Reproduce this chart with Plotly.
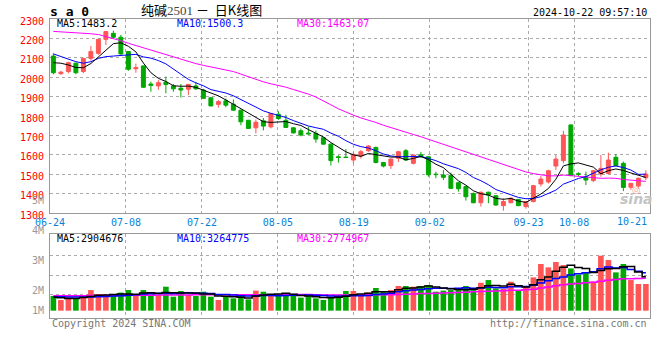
import plotly.graph_objects as go

# ---------------- data ----------------
dates = [
    "06-24", "06-25", "06-26", "06-27", "06-28",
    "07-01", "07-02", "07-03", "07-04", "07-05",
    "07-08", "07-09", "07-10", "07-11", "07-12",
    "07-15", "07-16", "07-17", "07-18", "07-19",
    "07-22", "07-23", "07-24", "07-25", "07-26",
    "07-29", "07-30", "07-31", "08-01", "08-02",
    "08-05", "08-06", "08-07", "08-08", "08-09",
    "08-12", "08-13", "08-14", "08-15", "08-16",
    "08-19", "08-20", "08-21", "08-22", "08-23",
    "08-26", "08-27", "08-28", "08-29", "08-30",
    "09-02", "09-03", "09-04", "09-05", "09-06",
    "09-09", "09-10", "09-11", "09-12", "09-13",
    "09-18", "09-19", "09-20",
    "09-23", "09-24", "09-25", "09-26", "09-27",
    "09-30",
    "10-08", "10-09", "10-10", "10-11",
    "10-14", "10-15", "10-16", "10-17", "10-18",
    "10-21", "10-22",
]

opens = [2109, 2018, 2029, 2072, 2029, 2097, 2123, 2195, 2226, 2206,
         2132, 2043, 2058, 1965, 1955, 1974, 1955, 1943, 1938, 1955,
         1934, 1894, 1860, 1878, 1861, 1830, 1778, 1739, 1775, 1744,
         1809, 1778, 1739, 1724, 1712, 1710, 1688, 1655, 1590, 1588,
         1573, 1594, 1621, 1638, 1560, 1544, 1582, 1621, 1556, 1600,
         1590, 1500, 1496, 1493, 1456, 1436, 1401, 1353, 1407, 1389,
         1338, 1353, 1370, 1333, 1359, 1450, 1460, 1542, 1570, 1754,
         1502, 1487, 1467, 1501, 1504, 1587, 1556, 1433, 1439, 1482]
highs = [2123, 2033, 2080, 2075, 2100, 2161, 2197, 2238, 2240, 2218,
         2135, 2070, 2060, 1977, 1985, 2003, 1965, 1965, 1965, 1975,
         1940, 1896, 1882, 1890, 1885, 1832, 1780, 1782, 1790, 1815,
         1825, 1806, 1742, 1735, 1745, 1725, 1690, 1658, 1598, 1630,
         1615, 1625, 1650, 1642, 1562, 1580, 1620, 1630, 1602, 1615,
         1592, 1513, 1522, 1508, 1460, 1440, 1405, 1410, 1410, 1392,
         1376, 1380, 1372, 1362, 1445, 1492, 1523, 1599, 1724, 1754,
         1510, 1513, 1522, 1599, 1611, 1604, 1565, 1455, 1483, 1520]
lows = [2015, 2012, 2020, 2015, 2020, 2085, 2115, 2166, 2200, 2115,
        2033, 2023, 1945, 1925, 1935, 1917, 1925, 1895, 1908, 1935,
        1888, 1850, 1843, 1845, 1828, 1752, 1733, 1710, 1726, 1736,
        1780, 1738, 1710, 1695, 1704, 1662, 1652, 1545, 1560, 1583,
        1555, 1580, 1615, 1556, 1535, 1527, 1563, 1570, 1550, 1585,
        1487, 1479, 1470, 1425, 1410, 1364, 1350, 1333, 1350, 1338,
        1312, 1350, 1335, 1322, 1355, 1436, 1452, 1522, 1556, 1490,
        1490, 1444, 1460, 1487, 1500, 1540, 1413, 1420, 1425, 1470]
closes = [2023, 2026, 2075, 2023, 2097, 2132, 2195, 2235, 2206, 2120,
          2041, 2050, 1948, 1958, 1972, 1962, 1940, 1934, 1963, 1940,
          1891, 1852, 1874, 1856, 1830, 1770, 1736, 1768, 1748, 1813,
          1787, 1741, 1713, 1702, 1708, 1681, 1655, 1570, 1586, 1586,
          1602, 1616, 1645, 1560, 1542, 1578, 1616, 1573, 1599, 1590,
          1497, 1498, 1484, 1427, 1425, 1384, 1353, 1407, 1393, 1341,
          1359, 1376, 1338, 1359, 1441, 1475, 1518, 1578, 1702, 1493,
          1500, 1470, 1518, 1530, 1573, 1544, 1432, 1453, 1479, 1500]

ma5 = [2075, 2072, 2063, 2050, 2048.8, 2070.6, 2104.4, 2136.4, 2173, 2177.6,
       2159.4, 2130.4, 2073, 2023.4, 1993.8, 1978, 1956, 1953.2, 1954.2, 1947.8,
       1933.6, 1916, 1904, 1882.6, 1860.6, 1836.4, 1813.2, 1792, 1770.4, 1767,
       1770.4, 1771.4, 1760.4, 1751.2, 1730.2, 1709, 1691.8, 1663.2, 1640, 1615.6,
       1599.8, 1592, 1607, 1601.8, 1593, 1588.2, 1588.2, 1573.8, 1581.6, 1591.2,
       1575, 1551.4, 1533.6, 1499.2, 1466.2, 1443.6, 1414.6, 1399.2, 1392.4, 1375.6,
       1370.6, 1375.2, 1361.4, 1354.6, 1374.6, 1397.8, 1426.2, 1474.2, 1542.8, 1553.2,
       1558.2, 1548.6, 1536.6, 1502.2, 1518.2, 1527, 1519.4, 1506.4, 1496.2, 1483.2]
ma10 = [2120, 2106, 2092, 2080, 2072, 2080, 2097, 2106, 2109, 2113.2,
        2115, 2117.4, 2104.7, 2098.2, 2085.7, 2068.7, 2043.2, 2013.1, 1988.8, 1970.8,
        1955.8, 1936, 1928.6, 1918.4, 1904.2, 1885, 1864.6, 1848, 1826.5, 1813.8,
        1803.4, 1792.3, 1776.2, 1760.8, 1748.6, 1739.7, 1731.6, 1711.8, 1695.6, 1672.9,
        1654.4, 1641.9, 1635.1, 1620.9, 1604.3, 1594, 1590.1, 1590.4, 1591.7, 1592.1,
        1581.6, 1569.8, 1553.7, 1540.4, 1528.7, 1509.3, 1483, 1466.4, 1445.8, 1420.9,
        1407.1, 1394.9, 1380.3, 1373.5, 1375.1, 1384.2, 1400.7, 1417.8, 1448.7, 1463.9,
        1478, 1487.4, 1505.4, 1522.5, 1535.7, 1542.6, 1534, 1521.5, 1499.2, 1500.3]
ma30 = [2236, 2234, 2232, 2229, 2226, 2224, 2220, 2210, 2200, 2188,
        2175, 2163, 2151, 2140, 2128, 2116, 2104, 2092, 2081, 2070,
        2061, 2052, 2044, 2037, 2029, 2016, 2002, 1989, 1976, 1965.9,
        1958.1, 1948.6, 1936.5, 1925.8, 1912.8, 1897.8, 1879.8, 1857.6, 1837, 1819.2,
        1804.5, 1790.1, 1780, 1766.7, 1752.4, 1739.6, 1728.8, 1716.7, 1704.6, 1692.9,
        1679.8, 1668, 1655, 1640.7, 1627.2, 1614.3, 1601.6, 1589.5, 1577.7, 1562,
        1547.7, 1535.5, 1523, 1511.6, 1502.7, 1495.8, 1491.3, 1491.5, 1495.4, 1492.3,
        1488.9, 1484, 1479.8, 1478.8, 1479.8, 1478.7, 1472.6, 1468.6, 1464.6, 1463.07]

# volume, millions of lots
vol = [1.26, 0.92, 1.12, 1.06, 1.26, 1.77, 1.43, 1.20, 1.26, 1.55,
       1.77, 1.26, 1.77, 1.34, 1.34, 2.06, 1.20, 1.69, 1.34, 1.26,
       1.63, 1.20, 0.92, 1.20, 1.06, 1.34, 0.97, 1.72, 1.63, 1.43,
       1.43, 1.26, 1.26, 1.12, 1.26, 1.06, 0.92, 1.20, 1.34, 1.69,
       1.69, 1.26, 1.55, 1.95, 1.63, 1.77, 2.12, 2.12, 2.06, 2.12,
       2.20, 1.63, 1.72, 1.77, 1.77, 2.12, 1.77, 2.40, 2.63, 1.92,
       1.86, 2.49, 1.77, 2.12, 2.86, 4.01, 3.72, 4.18, 3.92, 3.63,
       3.10, 3.29, 2.50, 4.72, 4.35, 3.29, 4.01, 2.63, 2.29, 2.29]
vma5 = [1.15, 1.10, 1.05, 1.05, 1.124, 1.226, 1.328, 1.344, 1.384, 1.442,
        1.442, 1.408, 1.522, 1.538, 1.496, 1.554, 1.542, 1.526, 1.526, 1.510,
        1.424, 1.424, 1.270, 1.242, 1.202, 1.144, 1.098, 1.258, 1.344, 1.418,
        1.436, 1.494, 1.402, 1.300, 1.266, 1.192, 1.124, 1.112, 1.156, 1.242,
        1.368, 1.436, 1.506, 1.628, 1.616, 1.632, 1.804, 1.918, 1.940, 2.038,
        2.124, 2.026, 1.946, 1.888, 1.818, 1.802, 1.830, 1.966, 2.138, 2.168,
        2.116, 2.260, 2.134, 2.032, 2.220, 2.650, 2.896, 3.378, 3.738, 3.892,
        3.710, 3.624, 3.288, 3.448, 3.592, 3.630, 3.774, 3.800, 3.314, 2.904676]
vma10 = [1.20, 1.19, 1.18, 1.17, 1.17, 1.18, 1.20, 1.22, 1.25, 1.283,
         1.334, 1.368, 1.433, 1.461, 1.469, 1.498, 1.475, 1.524, 1.532, 1.503,
         1.489, 1.483, 1.398, 1.384, 1.356, 1.284, 1.261, 1.264, 1.293, 1.310,
         1.290, 1.296, 1.330, 1.322, 1.342, 1.314, 1.309, 1.257, 1.228, 1.254,
         1.280, 1.280, 1.309, 1.392, 1.429, 1.500, 1.620, 1.712, 1.784, 1.827,
         1.878, 1.915, 1.932, 1.914, 1.928, 1.963, 1.928, 1.956, 2.013, 1.993,
         1.959, 2.045, 2.050, 2.085, 2.194, 2.383, 2.578, 2.756, 2.885, 3.056,
         3.180, 3.260, 3.333, 3.593, 3.742, 3.670, 3.699, 3.544, 3.381, 3.264775]
vma30 = [1.28, 1.28, 1.29, 1.29, 1.29, 1.30, 1.30, 1.30, 1.31, 1.31,
         1.32, 1.32, 1.33, 1.33, 1.34, 1.34, 1.35, 1.35, 1.35, 1.36,
         1.36, 1.36, 1.36, 1.36, 1.36, 1.36, 1.36, 1.36, 1.36, 1.365,
         1.371, 1.382, 1.387, 1.389, 1.389, 1.365, 1.348, 1.348, 1.351, 1.356,
         1.353, 1.353, 1.346, 1.366, 1.376, 1.366, 1.397, 1.411, 1.435, 1.464,
         1.483, 1.497, 1.524, 1.543, 1.566, 1.592, 1.619, 1.642, 1.675, 1.691,
         1.706, 1.747, 1.764, 1.797, 1.850, 1.949, 2.042, 2.141, 2.227, 2.292,
         2.339, 2.407, 2.438, 2.531, 2.621, 2.672, 2.735, 2.752, 2.760, 2.774967]

tick_dates = ["06-24", "07-08", "07-22", "08-05", "08-19", "09-02", "09-23", "10-08"]
edge_date = "10-21"
price_ticks = [1300, 1400, 1500, 1600, 1700, 1800, 1900, 2000, 2100, 2200, 2300]
vol_labels = ["5M", "4M", "3M", "2M", "1M"]

title_name = "纯碱"
title_code = "2501"
title_rest = " －  日K线图"
symbol = "s a 0"
stamp = "2024-10-22 09:57:10"
price_legend = [("MA5:1483.2", "#000000"), ("MA10:1500.3", "#0000ff"), ("MA30:1463.07", "#ff00ff")]
vol_legend = [("MA5:2904676", "#000000"), ("MA10:3264775", "#0000ff"), ("MA30:2774967", "#ff00ff")]

# ---------------- styling ----------------
RED = "#ff5555"
GREEN = "#00a800"
GRID = "#aaaaaa"
BORDER = "#999999"
MONO = "DejaVu Sans Mono"

n = len(dates)
x = list(range(n))
x_lo, x_hi = -0.45, n - 0.45
tickvals = [dates.index(d) * n / (n - 1) - 0.445 for d in tick_dates]
bar_colors = [RED if c >= o else GREEN for o, c in zip(opens, closes)]

fig = go.Figure()
fig.add_trace(go.Candlestick(
    x=x, open=opens, high=highs, low=lows, close=closes,
    increasing=dict(line=dict(color=RED, width=1), fillcolor=RED),
    decreasing=dict(line=dict(color=GREEN, width=1), fillcolor=GREEN),
    whiskerwidth=0, showlegend=False, hoverinfo="skip", xaxis="x", yaxis="y"))
for ys, col in [(ma30, "#ff00ff"), (ma10, "#0000ff"), (ma5, "#000000")]:
    fig.add_trace(go.Scatter(x=x, y=ys, mode="lines", line=dict(color=col, width=1),
                             showlegend=False, hoverinfo="skip", xaxis="x", yaxis="y"))

fig.add_trace(go.Bar(x=x, y=vol, marker=dict(color=bar_colors, line=dict(width=0)),
                     showlegend=False, hoverinfo="skip", xaxis="x2", yaxis="y2"))
for ys, col in [(vma30, "#ff00ff"), (vma10, "#0000ff"), (vma5, "#000000")]:
    fig.add_trace(go.Scatter(x=x, y=ys, mode="lines", line=dict(color=col, width=1.5, shape="hvh"),
                             showlegend=False, hoverinfo="skip", xaxis="x2", yaxis="y2"))

W, H = 660, 360
ML, MR, MT, MB = 50, 10, 19, 42
PH = H - MT - MB
PW = W - ML - MR


def py(ypix):
    return (H - MB - ypix) / PH


def px(xpix):
    return (xpix - ML) / PW


price_bottom = 213
vol_top = 234.3

axis_common = dict(showgrid=True, gridcolor=GRID, griddash="dot", gridwidth=1,
                   showline=True, mirror=True, linecolor=BORDER, linewidth=1,
                   zeroline=False, ticks="")

fig.update_layout(
    width=W, height=H,
    margin=dict(l=ML, r=MR, t=MT, b=MB, autoexpand=False),
    paper_bgcolor="white", plot_bgcolor="white",
    showlegend=False, boxgap=0.25, bargap=0.25,
    xaxis=dict(domain=[0, 1], anchor="y", range=[x_lo, x_hi],
               tickmode="array", tickvals=tickvals, ticktext=tick_dates,
               tickfont=dict(family=MONO, size=10, color="#0a7fd6"),
               rangeslider=dict(visible=False), **axis_common),
    yaxis=dict(domain=[py(price_bottom), 1], anchor="x", range=[1300, 2300],
               tickmode="array", tickvals=price_ticks,
               tickfont=dict(family=MONO, size=10, color="#ff0000"),
               ticklabelshift=2, ticklabelstandoff=3, **axis_common),
    xaxis2=dict(domain=[0, 1], anchor="y2", matches="x", range=[x_lo, x_hi],
                tickmode="array", tickvals=tickvals, showticklabels=False,
                **axis_common),
    yaxis2=dict(domain=[0, py(vol_top)], anchor="x2", range=[-0.63, 6.56],
                tickmode="array", tickvals=[1.35, 3.06, 4.78], showticklabels=False,
                **axis_common),
)

ann = []
# header
ann.append(dict(text="<b>" + symbol + "</b>", x=px(48), y=py(11), xanchor="left", yanchor="middle",
                font=dict(family=MONO, size=13, color="#000000")))
ann.append(dict(text=title_name + "<span style='font-family:Liberation Serif;color:#444444'>"
                + title_code + "</span>" + title_rest,
                x=px(201), y=py(9), xanchor="center", yanchor="middle",
                font=dict(family="Noto Sans CJK SC", size=13, color="#000000")))
ann.append(dict(text=stamp, x=px(649), y=py(12), xanchor="right", yanchor="middle",
                font=dict(family=MONO, size=10, color="#000000")))
# price legend
for (t, c), xl in zip(price_legend, [55, 175, 295]):
    ann.append(dict(text=t, x=px(xl), y=py(24), xanchor="left", yanchor="middle",
                    font=dict(family=MONO, size=10, color=c)))
# volume legend
for (t, c), xl in zip(vol_legend, [55, 175, 295]):
    ann.append(dict(text=t, x=px(xl), y=py(238.5), xanchor="left", yanchor="middle",
                    font=dict(family=MONO, size=10, color=c)))
# volume axis labels
for t, yl in zip(vol_labels, [200.5, 230.7, 260.7, 290.7, 310.7]):
    ann.append(dict(text=t, x=px(46), y=py(yl), xanchor="right", yanchor="middle",
                    font=dict(family=MONO, size=10, color="#999999")))
# last date label at right edge
ann.append(dict(text=edge_date, x=px(649), y=py(221), xanchor="right", yanchor="middle",
                font=dict(family=MONO, size=10, color="#0a7fd6")))
# footer
ann.append(dict(text="Copyright 2024 SINA.COM", x=px(50), y=py(323.5), xanchor="left", yanchor="middle",
                font=dict(family=MONO, size=10, color="#777777")))
ann.append(dict(text="http://finance.sina.com.cn", x=px(649), y=py(323.5), xanchor="right",
                yanchor="middle", font=dict(family=MONO, size=10, color="#777777")))
# watermark
ann.append(dict(text="<b><i>sina</i></b>", x=px(636), y=py(199), xanchor="center", yanchor="middle",
                font=dict(family="DejaVu Sans", size=14, color="#c4c4c4")))
ann.append(dict(text="◎", x=px(636), y=py(189), xanchor="center", yanchor="middle",
                font=dict(family="DejaVu Sans", size=10, color="#f2aaaa")))

for a in ann:
    a.update(xref="paper", yref="paper", showarrow=False)
fig.update_layout(annotations=ann)

fig.write_html("out.html", config={"displayModeBar": False},
               post_script="document.body.style.margin='0px';")
